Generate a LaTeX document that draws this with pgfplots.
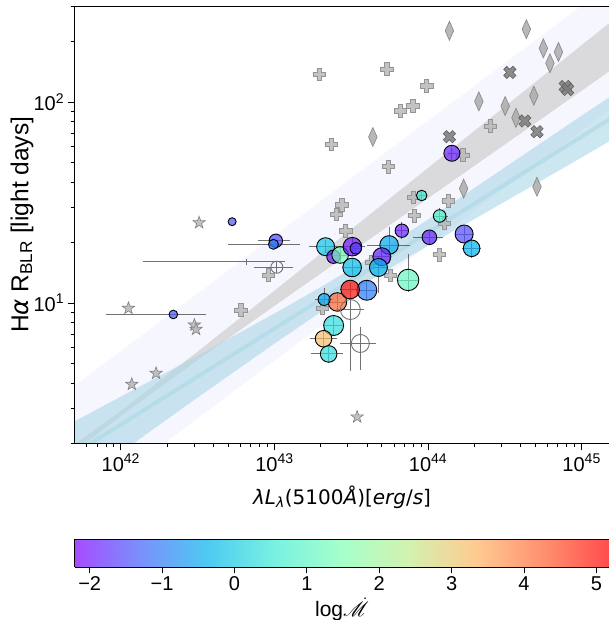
\documentclass[border=0pt]{standalone}
\usepackage{fontspec}
\setmainfont{Liberation Sans}
\newfontfamily\djv{DejaVu Sans}
\usepackage{mathrsfs}
\usepackage{pgfplots}
\pgfplotsset{compat=1.18}

\definecolor{lavband}{rgb}{0.965,0.965,1.0}
\definecolor{grayband}{rgb}{0.855,0.855,0.865}
\definecolor{lb}{rgb}{0.678,0.847,0.902}

% matplotlib-like rainbow map, plain and as seen through alpha 0.7 on white
\pgfplotsset{
  colormap={rbtrue}{rgb=(0.5,0,1) rgb=(0.25,0.383,0.981) rgb=(0,0.707,0.924)
    rgb=(0.25,0.924,0.831) rgb=(0.5,1,0.707) rgb=(0.75,0.924,0.556)
    rgb=(1,0.707,0.383) rgb=(1,0.383,0.195) rgb=(1,0,0)},
  colormap={rbpale}{rgb=(0.65,0.3,1) rgb=(0.475,0.568,0.987) rgb=(0.3,0.795,0.947)
    rgb=(0.475,0.947,0.882) rgb=(0.65,1,0.795) rgb=(0.825,0.947,0.689)
    rgb=(1,0.795,0.568) rgb=(1,0.568,0.437) rgb=(1,0.3,0.3)},
}

% filled five-point star
\pgfdeclareplotmark{fstar}{%
  \pgfpathmoveto{\pgfpointpolar{90}{\pgfplotmarksize}}%
  \pgfpathlineto{\pgfpointpolar{126}{0.4\pgfplotmarksize}}%
  \pgfpathlineto{\pgfpointpolar{162}{\pgfplotmarksize}}%
  \pgfpathlineto{\pgfpointpolar{198}{0.4\pgfplotmarksize}}%
  \pgfpathlineto{\pgfpointpolar{234}{\pgfplotmarksize}}%
  \pgfpathlineto{\pgfpointpolar{270}{0.4\pgfplotmarksize}}%
  \pgfpathlineto{\pgfpointpolar{306}{\pgfplotmarksize}}%
  \pgfpathlineto{\pgfpointpolar{342}{0.4\pgfplotmarksize}}%
  \pgfpathlineto{\pgfpointpolar{18}{\pgfplotmarksize}}%
  \pgfpathlineto{\pgfpointpolar{54}{0.4\pgfplotmarksize}}%
  \pgfpathclose
  \pgfusepathqfillstroke}

% filled thick plus (rotated by 45 degrees it gives the filled X)
\pgfdeclareplotmark{fplus}{%
  \pgfpathmoveto{\pgfpoint{0.34\pgfplotmarksize}{\pgfplotmarksize}}%
  \pgfpathlineto{\pgfpoint{-0.34\pgfplotmarksize}{\pgfplotmarksize}}%
  \pgfpathlineto{\pgfpoint{-0.34\pgfplotmarksize}{0.34\pgfplotmarksize}}%
  \pgfpathlineto{\pgfpoint{-\pgfplotmarksize}{0.34\pgfplotmarksize}}%
  \pgfpathlineto{\pgfpoint{-\pgfplotmarksize}{-0.34\pgfplotmarksize}}%
  \pgfpathlineto{\pgfpoint{-0.34\pgfplotmarksize}{-0.34\pgfplotmarksize}}%
  \pgfpathlineto{\pgfpoint{-0.34\pgfplotmarksize}{-\pgfplotmarksize}}%
  \pgfpathlineto{\pgfpoint{0.34\pgfplotmarksize}{-\pgfplotmarksize}}%
  \pgfpathlineto{\pgfpoint{0.34\pgfplotmarksize}{-0.34\pgfplotmarksize}}%
  \pgfpathlineto{\pgfpoint{\pgfplotmarksize}{-0.34\pgfplotmarksize}}%
  \pgfpathlineto{\pgfpoint{\pgfplotmarksize}{0.34\pgfplotmarksize}}%
  \pgfpathlineto{\pgfpoint{0.34\pgfplotmarksize}{0.34\pgfplotmarksize}}%
  \pgfpathclose
  \pgfusepathqfillstroke}

\begin{document}
\begin{tikzpicture}
\begin{axis}[
  name=main, at={(0,0)}, anchor=south west,
  width=535pt, height=437.4pt, scale only axis,
  xmode=log, ymode=log,
  xmin=5e41, xmax=1.52e45, ymin=2, ymax=300,
  xtick={1e42,1e43,1e44,1e45},
  xticklabels={10\textsuperscript{42},10\textsuperscript{43},10\textsuperscript{44},10\textsuperscript{45}},
  ytick={10,100},
  yticklabels={10\textsuperscript{1},10\textsuperscript{2}},
  minor xtick={6e41,7e41,8e41,9e41,2e42,3e42,4e42,5e42,6e42,7e42,8e42,9e42,
    2e43,3e43,4e43,5e43,6e43,7e43,8e43,9e43,2e44,3e44,4e44,5e44,6e44,7e44,8e44,9e44},
  minor ytick={2,3,4,5,6,7,8,9,20,30,40,50,60,70,80,90,200,300},
  tick align=outside, tick pos=left,
  major tick length=7pt, minor tick length=4pt,
  every tick/.style={black, line width=0.8pt},
  axis line style={line width=0.9pt},
  axis on top,
  ticklabel style={font=\fontsize{20}{24}\selectfont},
  xlabel={{\djv\textit{λL}\textsubscript{\textit{λ}}(5100\textit{Å})[\textit{erg}/\textit{s}]}},
  ylabel={H{\djv\textit{α}} R\textsubscript{BLR} [light days]},
  xlabel style={font=\fontsize{20}{24}\selectfont, at={(axis description cs:0.5,-0.1223)}, anchor=center},
  ylabel style={font=\fontsize{24.5}{28}\selectfont, at={(axis description cs:-0.0981,0.5)}, anchor=center},
  point meta min=-2.21, point meta max=5.18,
  colormap name=rbtrue,
]

% scatter band around the gray relation
\addplot[draw=none, fill=lavband, forget plot] coordinates {
  (5e41,3.878) (1e42,5.761) (3.162e42,11.14) (1e43,21.55) (3.162e43,41.69)
  (1e44,80.65) (3.162e44,156.0) (1e45,301.7) (1.585e45,392.6)
  (1.585e45,94.2) (1e45,72.36) (3.162e44,37.41) (1e44,19.35) (3.162e43,10.0)
  (1e43,5.170) (3.162e42,2.673) (1e42,1.382) (5e41,0.930)} -- cycle;

% gray relation, confidence band
\addplot[draw=none, fill=grayband, forget plot] coordinates {
  (5e41,1.982) (1e42,2.906) (3.162e42,5.728) (1e43,11.52) (3.162e43,23.26)
  (1e44,46.98) (3.162e44,94.93) (1e45,191.8) (1.585e45,254.1)
  (1.585e45,145.6) (1e45,113.8) (3.162e44,61.46) (1e44,33.20) (3.162e43,17.92)
  (1e43,9.672) (3.162e42,5.200) (1e42,2.741) (5e41,1.820)} -- cycle;

% blue fit, confidence band and best fit
\addplot[draw=none, fill=lb, fill opacity=0.62, forget plot] coordinates {
  (5e41,2.576) (1e42,3.422) (3.162e42,5.470) (1e43,8.867) (1.995e43,11.97)
  (3.981e43,16.46) (1e44,26.03) (3.162e44,47.25) (1e45,85.52) (1.585e45,108.0)
  (1.585e45,65.1) (1e45,52.98) (3.162e44,31.94) (1e44,19.30) (3.981e43,12.66)
  (1.995e43,8.997) (1e43,6.279) (3.162e42,3.388) (1e42,1.804) (5e41,1.238)} -- cycle;
\addplot[lb, line width=4pt, opacity=0.65, forget plot] coordinates {
  (5e41,1.786) (1e42,2.484) (3.162e42,4.305) (1e43,7.462) (1.995e43,10.38)
  (3.981e43,14.43) (1e44,22.41) (3.162e44,38.86) (1e45,67.31) (1.585e45,83.84)};

% comparison samples
\addplot[only marks, mark=fstar, mark size=6.5,
  mark options={fill=black!27, draw=black!50, line width=0.6pt, fill opacity=0.9}] table {
x y
3.234e42 25.09
1.121e42 9.41
3.013e42 7.77
3.09e42 7.40
1.697e42 4.47
1.179e42 3.94
3.455e43 2.71
};

\addplot[only marks, mark=fplus, mark size=6.3,
  mark options={fill=black!28, draw=black!42, line width=0.6pt, fill opacity=0.85}] table {
x y
1.954e43 137.3
5.393e43 146.0
9.793e43 120.4
7.962e43 95.7
6.612e43 90.5
2.339e43 61.5
5.524e43 47.7
2.747e43 30.8
2.529e43 27.56
2.904e43 22.87
8.034e43 33.49
1.352e44 32.28
1.685e44 54.5
2.537e44 75.97
8.12e43 27.24
1.273e44 24.89
1.181e44 17.43
5.691e43 13.73
4.262e43 16.0
2.045e43 9.44
9.14e42 13.78
6.043e42 9.23
};

\addplot[only marks, mark=diamond*, mark size=9.5,
  mark options={xscale=0.6, fill=black!33, draw=black!48, line width=0.6pt, fill opacity=0.85}] table {
x y
1.378e44 226.1
4.365e44 230.3
5.633e44 185.0
7.063e44 177.4
6.218e44 155.8
2.141e44 100.7
3.177e44 95.5
4.885e44 107.4
3.736e44 83.4
4.371e43 66.97
1.705e44 37.09
5.117e44 37.90
};

\addplot[only marks, mark=fplus, mark size=6.5,
  mark options={rotate=45, fill=black!52, draw=black!62, line width=0.6pt, fill opacity=0.85}] table {
x y
3.409e44 140.3
7.809e44 119.4
8.107e44 115.4
4.268e44 80.46
5.117e44 71.16
1.378e44 67.2
};

% objects coloured by accretion rate, marker size per object
\addplot[scatter, only marks, mark=*,
  point meta=\thisrow{m},
  scatter/use mapped color={draw=black, fill=mapped color},
  visualization depends on={\thisrow{s}\as\msz},
  scatter/@pre marker code/.append style={/tikz/mark size=\msz},
  mark options={fill opacity=0.7, line width=0.9pt}] table {
x y m s
5.304e42 25.38 -1.4 4
2.197e42 8.767 -1.4 4.3
1.021e43 20.40 -1.5 6.7
9.85e42 19.59 -1.0 5
9.085e43 34.26 0.6 5.3
1.19e44 27.09 0.8 6.3
6.752e43 22.89 -1.9 6.7
1.021e44 21.23 -1.9 7.3
1.718e44 22.04 -1.5 9
1.922e44 18.71 -0.4 8.3
1.429e44 55.57 -1.9 8
2.154e43 19.06 -0.1 9
2.422e43 16.99 -2.0 6.7
2.677e43 17.33 1.3 8.3
3.22e43 19.06 -2.0 9.3
3.388e43 18.71 -1.6 5.7
3.206e43 15.02 -0.2 9.3
5.581e43 19.44 -0.5 9.3
5.003e43 16.99 -1.9 9
4.755e43 15.02 -0.4 9
7.42e43 13.02 1.1 10.7
3.996e43 11.57 -1.0 10
2.572e43 10.12 4.2 9.3
3.111e43 11.67 5.0 9.3
2.106e43 10.41 -0.5 6
2.429e43 7.73 0.3 10
2.088e43 6.64 3.2 8.3
2.254e43 5.58 0.3 8.3
};

% objects without accretion rate
\addplot[only marks, mark=o, mark size=10, mark options={draw=black!55, line width=0.9pt}]
  coordinates {(3.12e43,9.28)};
\addplot[only marks, mark=o, mark size=9, mark options={draw=black!55, line width=0.9pt}]
  coordinates {(3.624e43,6.29)};
\addplot[only marks, mark=o, mark size=6, mark options={draw=black!55, line width=0.9pt}]
  coordinates {(1.037e43,15.07)};

% error bars, one segment per bar
\addplot[black!65, line width=0.9pt, opacity=0.85, unbounded coords=jump, forget plot] table {
x y
7.986e41 8.767
3.576e42 8.767
nan nan
1.403e42 16.05
1.174e43 16.05
nan nan
6.613e42 16.55
6.613e42 15.54
nan nan
7.867e42 20.40
1.265e43 20.40
nan nan
5.018e42 19.59
1.47e43 19.59
nan nan
7.378e42 15.07
1.33e43 15.07
nan nan
1.037e43 16.18
1.037e43 14.1
nan nan
1.682e43 19.06
2.717e43 19.06
nan nan
2.154e43 20.58
2.154e43 17.74
nan nan
3.996e43 19.44
7.646e43 19.44
nan nan
5.581e43 23.97
5.581e43 15.76
nan nan
2.677e43 19.06
3.895e43 19.06
nan nan
3.22e43 21.06
3.22e43 17.13
nan nan
3.158e43 18.71
3.667e43 18.71
nan nan
3.388e43 19.89
3.388e43 17.74
nan nan
6.107e43 22.89
7.42e43 22.89
nan nan
6.752e43 25.29
6.752e43 20.82
nan nan
7.998e43 21.23
1.26e44 21.23
nan nan
1.021e44 22.81
1.021e44 19.66
nan nan
1.501e44 22.04
1.966e44 22.04
nan nan
1.718e44 24.16
1.718e44 20.12
nan nan
1.667e44 18.71
2.216e44 18.71
nan nan
1.922e44 20.58
1.922e44 16.74
nan nan
8.365e43 34.26
9.865e43 34.26
nan nan
9.085e43 36.49
9.085e43 32.17
nan nan
1.096e44 27.09
1.356e44 27.09
nan nan
1.19e44 29.69
1.19e44 24.72
nan nan
1.356e44 55.57
1.62e44 55.57
nan nan
1.429e44 60.4
1.429e44 50.87
nan nan
2.76e43 15.02
3.74e43 15.02
nan nan
3.206e43 16.55
3.206e43 13.47
nan nan
4.325e43 16.99
5.751e43 16.99
nan nan
5.003e43 18.57
5.003e43 15.46
nan nan
4.198e43 15.02
5.499e43 15.02
nan nan
4.755e43 16.99
4.755e43 11.18
nan nan
6.265e43 13.02
8.659e43 13.02
nan nan
7.42e43 17.53
7.42e43 11.38
nan nan
3.455e43 11.57
4.663e43 11.57
nan nan
3.996e43 13.02
3.996e43 10.35
nan nan
2.677e43 11.67
3.613e43 11.67
nan nan
3.111e43 12.58
3.111e43 10.35
nan nan
2.237e43 10.12
2.974e43 10.12
nan nan
2.572e43 11.21
2.572e43 9.126
nan nan
1.841e43 10.41
2.422e43 10.41
nan nan
2.106e43 11.87
2.106e43 9.585
nan nan
2.522e43 9.28
3.837e43 9.28
nan nan
3.12e43 11.61
3.12e43 4.59
nan nan
2.677e43 6.29
4.569e43 6.29
nan nan
3.624e43 7.624
3.624e43 4.642
nan nan
2.075e43 7.73
2.843e43 7.73
nan nan
2.429e43 8.615
2.429e43 6.93
nan nan
1.695e43 6.64
2.541e43 6.64
nan nan
2.088e43 7.256
2.088e43 6.04
nan nan
1.721e43 5.58
2.78e43 5.58
nan nan
2.254e43 6.252
2.254e43 5.012
nan nan
2.375e43 17.33
3.019e43 17.33
nan nan
2.677e43 18.99
2.677e43 15.81
};
\end{axis}

% colour scale for log Mdot
\begin{axis}[
  at={(0pt,-95.5pt)}, anchor=north west,
  width=535pt, height=28pt, scale only axis,
  view={0}{90},
  xmin=-2.21, xmax=5.18, ymin=0, ymax=1,
  enlargelimits=false,
  xtick={-2,-1,0,1,2,3,4,5},
  xticklabels={−2,−1,0,1,2,3,4,5},
  ytick=\empty, ztick=\empty,
  tick align=outside, xtick pos=left,
  major tick length=6pt,
  every tick/.style={black, line width=0.8pt},
  axis line style={line width=0.9pt},
  axis on top,
  ticklabel style={font=\fontsize{20}{24}\selectfont},
  colormap name=rbpale,
  point meta min=-2.21, point meta max=5.18,
  xlabel={log$\dot{\mathscr{M}}$},
  xlabel style={font=\fontsize{21}{25}\selectfont, at={(axis description cs:0.5,-1.52)}, anchor=center},
]
\addplot3[surf, shader=interp, point meta=x, mesh/rows=2] coordinates {
  (-2.21,0,0) (-1.5,0,0) (-1,0,0) (-0.5,0,0) (0,0,0) (0.5,0,0) (1,0,0) (1.5,0,0)
  (2,0,0) (2.5,0,0) (3,0,0) (3.5,0,0) (4,0,0) (4.5,0,0) (5.18,0,0)
  (-2.21,1,0) (-1.5,1,0) (-1,1,0) (-0.5,1,0) (0,1,0) (0.5,1,0) (1,1,0) (1.5,1,0)
  (2,1,0) (2.5,1,0) (3,1,0) (3.5,1,0) (4,1,0) (4.5,1,0) (5.18,1,0)};
\end{axis}

\pgfresetboundingbox
\path[use as bounding box] (-74.5pt,-176.5pt) rectangle (533.5pt,443.5pt);
\end{tikzpicture}
\end{document}
